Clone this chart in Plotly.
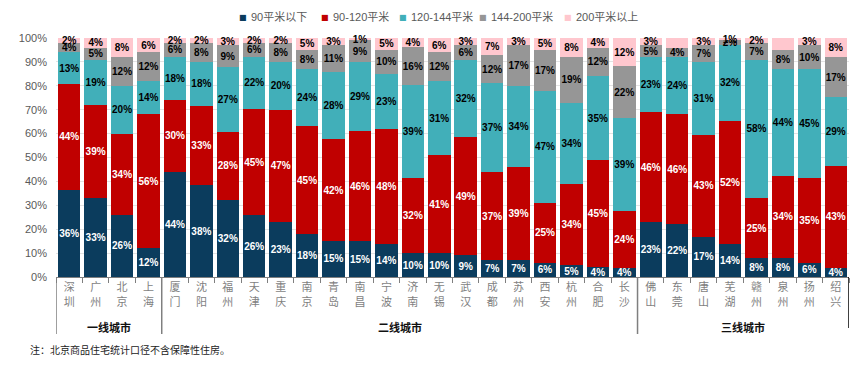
import plotly.graph_objects as go

cities = ["深圳","广州","北京","上海",
          "厦门","沈阳","福州","天津","重庆","南京","青岛","南昌","宁波","济南","无锡","武汉","成都","苏州","西安","杭州","合肥","长沙",
          "佛山","东莞","唐山","芜湖","赣州","泉州","扬州","绍兴"]

s_lt90 = [36,33,26,12, 44,38,32,26,23,18,15,15,14,10,10,9,7,7,6,5,4,4, 23,22,17,14,8,8,6,4]
s_90_120 = [44,39,34,56, 30,33,28,45,47,45,42,46,48,32,41,49,37,39,25,34,45,24, 46,46,43,52,25,34,35,43]
s_120_144 = [13,19,20,14, 18,18,27,22,20,24,28,29,23,39,31,32,37,34,47,34,35,39, 23,24,31,32,58,44,45,29]
s_144_200 = [4,5,12,12, 6,8,9,6,8,8,11,9,10,16,12,6,12,17,17,19,12,22, 5,4,7,2,7,8,10,17]
s_gt200 = [2,4,8,6, 2,2,3,2,2,5,3,1,5,4,6,3,7,3,5,8,4,12, 3,4,3,1,2,5,3,8]
hidden_label = {("200平米以上", "东莞")}

series = [
    ("90平米以下", s_lt90, "#0B3C5D", "white"),
    ("90-120平米", s_90_120, "#C00000", "white"),
    ("120-144平米", s_120_144, "#41AFB9", "black"),
    ("144-200平米", s_144_200, "#969696", "black"),
    ("200平米以上", s_gt200, "#FFC7CE", "black"),
]

groups = [("一线城市", 0, 3), ("二线城市", 4, 21), ("三线城市", 22, 29)]

FONT = "Liberation Sans, Arial, Noto Sans CJK SC"
xlabels = ["<br>".join(list(c)) for c in cities]

# the page body has an 8px margin: design in page pixels and shift
OFF = 8
W, H = 863 - OFF, 374 - OFF
P_LEFT, P_RIGHT, P_TOP, P_BOTTOM = 56, 849, 38, 277  # plot area in page pixels
ML = P_LEFT - OFF
MR = W - (P_RIGHT - OFF)
MT = P_TOP - OFF
MB = H - (P_BOTTOM - OFF)
PW = P_RIGHT - P_LEFT
PH = P_BOTTOM - P_TOP

def px_x(p):
    return (p - P_LEFT) / PW

def px_y(p):
    return (P_BOTTOM - p) / PH

fig = go.Figure()
for name, vals, color, tcol in series:
    texts = ["" if (name, c) in hidden_label else f"{v}%" for v, c in zip(vals, cities)]
    fig.add_trace(go.Bar(
        name=name, x=xlabels, y=vals, marker_color=color, marker_line_width=0,
        text=texts, textposition="inside", insidetextanchor="middle", textangle=0,
        textfont=dict(color=tcol, size=10, family=FONT, weight="bold"),
        cliponaxis=False, hoverinfo="skip", showlegend=False,
    ))

fig.update_layout(
    barmode="stack", barnorm="percent", bargap=0.15,
    width=W, height=H,
    margin=dict(l=ML, r=MR, t=MT, b=MB, autoexpand=False),
    paper_bgcolor="white", plot_bgcolor="white",
    font=dict(family=FONT, size=11, color="#595959"),
    uniformtext=dict(minsize=10, mode="show"),
    showlegend=False,
)
fig.update_yaxes(range=[0, 100], dtick=10, ticksuffix="%", showgrid=True,
                 gridcolor="#E3E3E3", gridwidth=1, zeroline=False,
                 tickfont=dict(size=11, color="#595959"), ticks="", showline=False,
                 ticklabelstandoff=8)
fig.update_xaxes(type="category", showline=True, linecolor="#7F7F7F", linewidth=1,
                 ticks="outside", tickson="boundaries", ticklen=5, tickcolor="#7F7F7F",
                 tickangle=0, tickfont=dict(size=11, color="#7F7F7F"),
                 range=[-0.5, len(cities) - 0.5])

# manual legend (small square markers)
legend_px = [243, 325, 403, 483, 568]
for (name, vals, color, tcol), lx in zip(series, legend_px):
    fig.add_annotation(x=px_x(lx), xref="paper", y=px_y(17), yref="paper",
                       xanchor="center", yanchor="middle", text="■", showarrow=False,
                       font=dict(size=8, color=color, family="DejaVu Sans"))
    fig.add_annotation(x=px_x(lx + 6), xref="paper", y=px_y(17), yref="paper",
                       xanchor="left", yanchor="middle", text=name, showarrow=False,
                       font=dict(size=11, color="#595959", family=FONT))

# group separators and labels
bounds = [-0.5, 3.5, 21.5, 29.5]
for i, b in enumerate(bounds):
    fig.add_shape(type="line", xref="x", yref="paper", x0=b, x1=b, y0=0,
                  y1=px_y(334) if i < 3 else px_y(328),
                  line=dict(color="#7F7F7F" if i < 3 else "#000000", width=1.5))
for gname, a, b in groups:
    fig.add_annotation(x=(a + b) / 2, xref="x", y=px_y(327), yref="paper", yanchor="middle",
                       text=f"<b>{gname}</b>", showarrow=False,
                       font=dict(size=11, color="#111111", family=FONT))

fig.add_annotation(x=px_x(28), xref="paper", y=px_y(350), yref="paper", xanchor="left",
                   yanchor="middle", text="注：北京商品住宅统计口径不含保障性住房。",
                   showarrow=False, font=dict(size=10, color="#222222", family=FONT))

fig.write_html("out.html")
